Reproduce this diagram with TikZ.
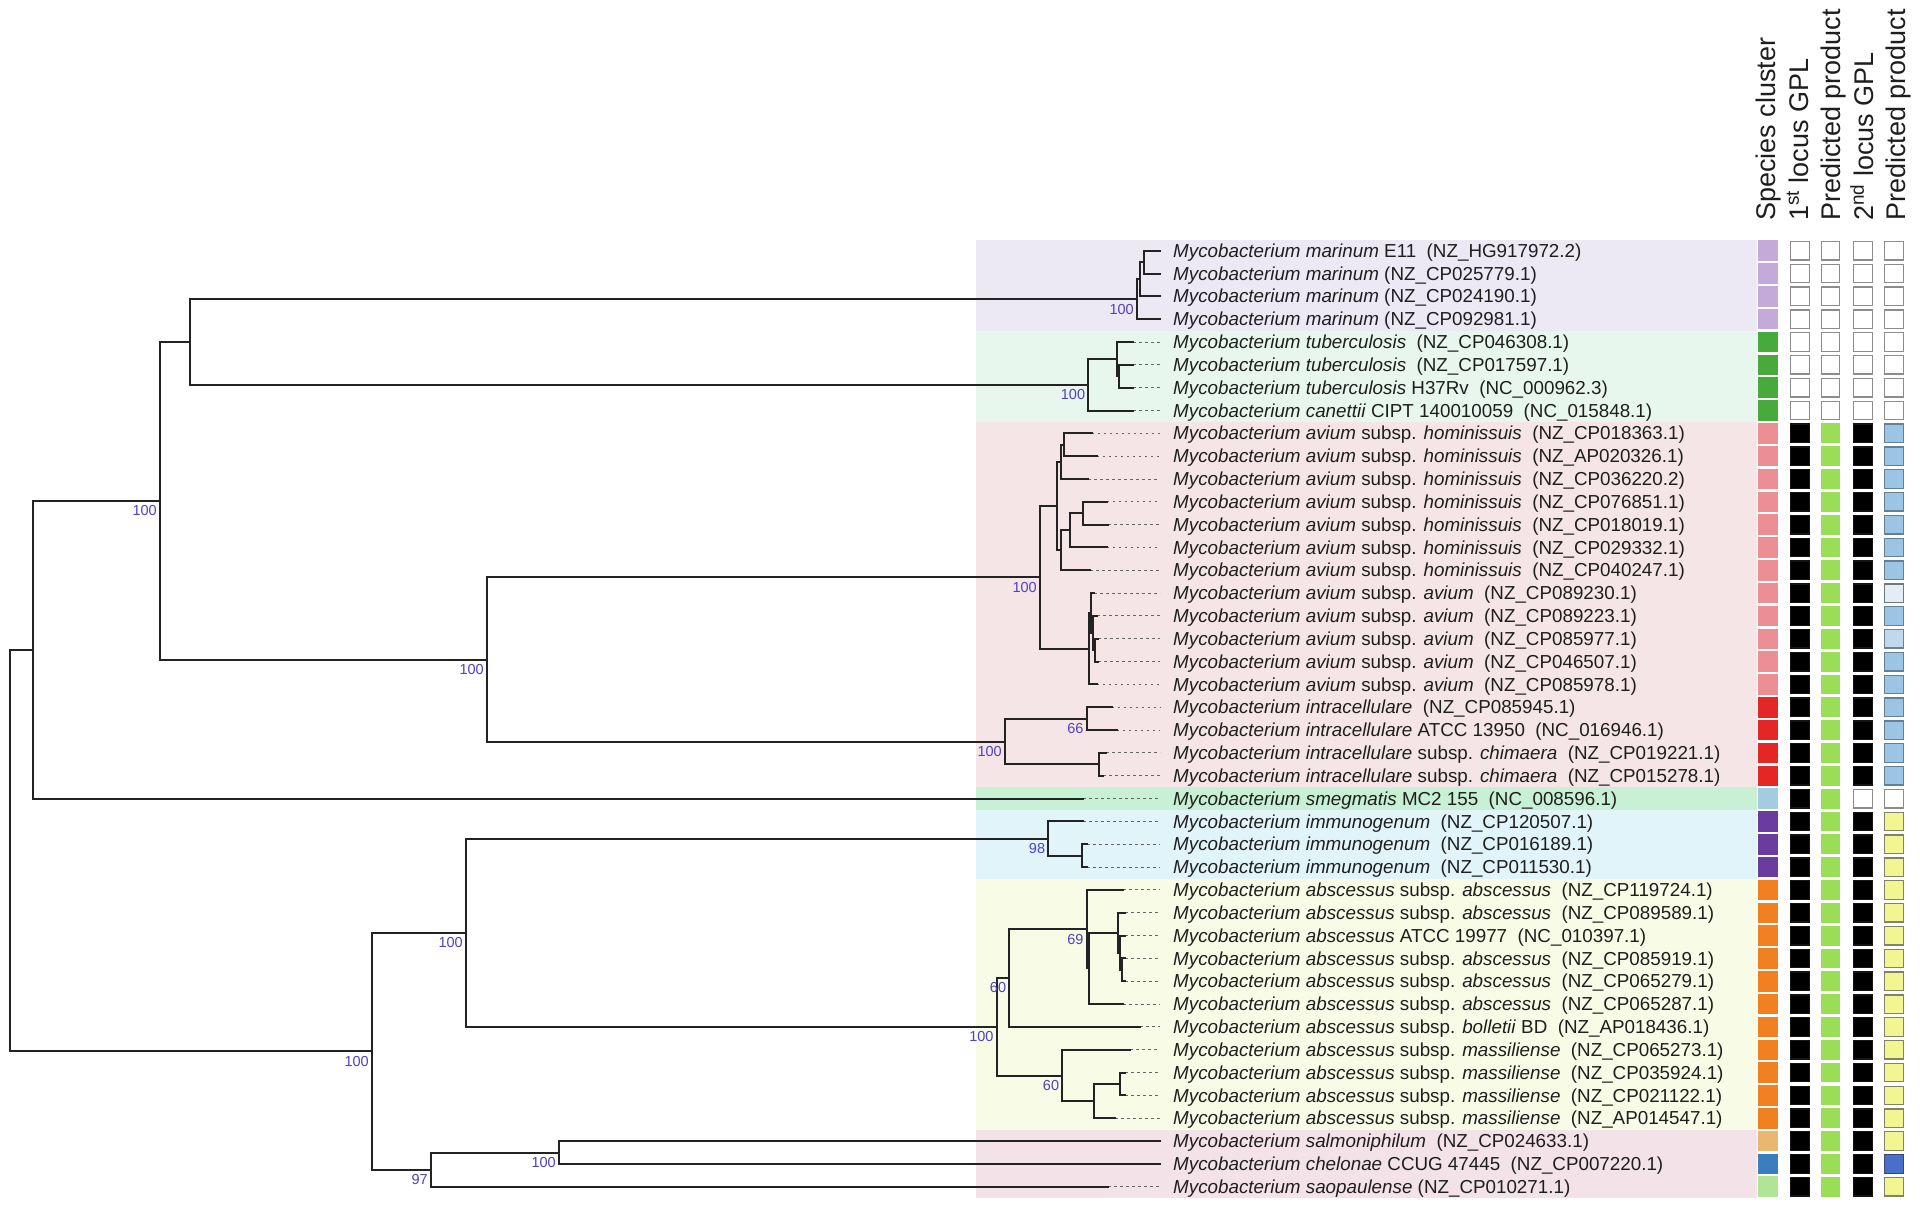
\documentclass[tikz,border=0pt]{standalone}
\usepackage{fontspec}
\setmainfont{Liberation Sans}
\definecolor{bgMar}{RGB}{236,233,245}
\definecolor{bgTub}{RGB}{232,247,238}
\definecolor{bgAv}{RGB}{246,229,231}
\definecolor{bgSm}{RGB}{199,240,213}
\definecolor{bgImm}{RGB}{225,244,250}
\definecolor{bgAbs}{RGB}{248,251,230}
\definecolor{bgBot}{RGB}{243,226,231}
\definecolor{spMar}{RGB}{196,170,216}
\definecolor{spTub}{RGB}{72,170,60}
\definecolor{spAv}{RGB}{236,143,148}
\definecolor{spInt}{RGB}{228,38,38}
\definecolor{spSm}{RGB}{163,204,224}
\definecolor{spImm}{RGB}{106,60,160}
\definecolor{spAbs}{RGB}{240,128,34}
\definecolor{spSal}{RGB}{233,184,112}
\definecolor{spChe}{RGB}{58,126,190}
\definecolor{spSao}{RGB}{176,228,150}
\definecolor{qW}{RGB}{255,255,255}\definecolor{qWE}{RGB}{140,140,140}
\definecolor{qK}{RGB}{0,0,0}\definecolor{qKE}{RGB}{20,20,20}
\definecolor{qG}{RGB}{153,222,86}\definecolor{qGE}{RGB}{153,222,86}
\definecolor{qB}{RGB}{156,196,228}\definecolor{qBE}{RGB}{100,128,150}
\definecolor{qL}{RGB}{192,216,236}\definecolor{qLE}{RGB}{110,130,150}
\definecolor{qV}{RGB}{228,237,245}\definecolor{qVE}{RGB}{110,120,130}
\definecolor{qY}{RGB}{242,246,146}\definecolor{qYE}{RGB}{130,130,105}
\definecolor{qD}{RGB}{72,112,200}\definecolor{qDE}{RGB}{60,70,110}
\definecolor{bsc}{RGB}{80,65,195}
\definecolor{treec}{RGB}{35,35,35}
\definecolor{txtc}{RGB}{30,30,30}
\newcommand{\RY}[1]{{250.7+22.83*(#1-1)}}
\newcommand{\RB}[1]{{257.3+22.83*(#1-1)}}
\tikzset{
  br/.style={draw=treec, line width=2pt, line join=miter, line cap=rect},
  dt/.style={draw=gray!80!black, line width=1pt, dash pattern=on 2.5pt off 3.5pt},
  bs/.style={anchor=north east, inner sep=0pt, text=bsc, font=\fontsize{14.5}{14.5}\selectfont},
  tiplab/.style={anchor=base west, inner sep=0pt, text=txtc, font=\fontsize{18.8}{22}\selectfont},
  hdr/.style={anchor=base west, rotate=90, inner sep=0pt, text=txtc, font=\fontsize{27}{30}\selectfont},
  spq/.style={minimum width=20pt, minimum height=20.5pt, inner sep=0pt, draw=none},
  sqd/.style={minimum width=18.5pt, minimum height=18.5pt, inner sep=0pt, line width=1.3pt}
}
\begin{document}
\begin{tikzpicture}[x=1pt,y=-1pt]
\useasboundingbox (0,0) rectangle (1920,1210);
\fill[white] (0,0) rectangle (1920,1210);
% background bands
\fill[bgMar] (976,240) rectangle (1757,330.6);
\fill[bgTub] (976,330.6) rectangle (1757,421.9);
\fill[bgAv] (976,421.9) rectangle (1757,787.2);
\fill[bgSm] (976,787.2) rectangle (1757,810);
\fill[bgImm] (976,810) rectangle (1757,878.5);
\fill[bgAbs] (976,878.5) rectangle (1757,1129.7);
\fill[bgBot] (976,1129.7) rectangle (1757,1198);
% headers
\node[hdr] (h1) at (1775,221) {Species cluster};
\node[hdr] (h2) at (1808,221) {1\textsuperscript{st} locus GPL};
\node[hdr] (h3) at (1840,221) {Predicted product};
\node[hdr] (h4) at (1873,221) {2\textsuperscript{nd} locus GPL};
\node[hdr] (h5) at (1905,221) {Predicted product};
% tip coordinates
\foreach \i/\sx in {1/1160,2/1160,3/1160,4/1160,5/1133,6/1133,7/1133,8/1133,
  9/1091.7,10/1096.7,11/1088.3,12/1106.7,13/1108.3,14/1106.7,15/1090,
  16/1094,17/1097,18/1098,19/1098,20/1096.7,21/1111.7,22/1116.7,23/1106,24/1103,
  25/1083,26/1083.3,27/1087,28/1087,29/1123.3,30/1125,31/1125,32/1125,33/1125,
  34/1123,35/1140,36/1130,37/1125,38/1125,39/1115,40/1160,41/1160,42/1108}{
  \coordinate (s\i) at (\sx,\RY{\i});
  \coordinate (d\i) at (1160,\RY{\i});
}
% internal nodes
\coordinate (m12) at (1144,262.1);
\coordinate (m123) at (1140,279.25);
\coordinate (mar) at (1137,299.2);
\coordinate (tb67) at (1118.5,376.3);
\coordinate (tb567) at (1116.7,359.15);
\coordinate (tub) at (1088.3,384.8);
\coordinate (nA) at (190,342);
\coordinate (q1) at (1064.3,444.75);
\coordinate (q2) at (1061,461.9);
\coordinate (nT) at (1082.7,513.25);
\coordinate (nS) at (1070,530.4);
\coordinate (nR) at (1061,550.35);
\coordinate (nP) at (1056.7,506.1);
\coordinate (v3) at (1095,650.2);
\coordinate (v2) at (1093,633.1);
\coordinate (v1) at (1091,613.15);
\coordinate (nU) at (1089.3,648.8);
\coordinate (av) at (1040,577.45);
\coordinate (nX) at (1086.7,718.7);
\coordinate (nY) at (1099.3,764.4);
\coordinate (nW) at (1005,741.55);
\coordinate (nC) at (487,659.5);
\coordinate (nB) at (160,500.75);
\coordinate (nD) at (33,649.7);
\coordinate (i23) at (1082.3,855.7);
\coordinate (imm) at (1048.3,838.6);
\coordinate (c33) at (1122,969.9);
\coordinate (c31) at (1120,952.75);
\coordinate (i3) at (1118.3,932.8);
\coordinate (i2) at (1089.3,968.45);
\coordinate (nI) at (1086.7,929.2);
\coordinate (nH) at (1009.3,978.05);
\coordinate (nL) at (1120.3,1084);
\coordinate (nK) at (1094.3,1101.15);
\coordinate (nJ) at (1062.3,1075.5);
\coordinate (abs) at (996.7,1026.8);
\coordinate (nF) at (466,932.7);
\coordinate (nN) at (559,1152.5);
\coordinate (nG) at (431,1169.6);
\coordinate (nE) at (372,1051.15);
\coordinate (root) at (10,850.4);
% dotted tip extensions
\foreach \i in {5,...,39,42}{\draw[dt] (s\i) -- (d\i);}
% branches
\draw[br] (s1) -| (m12) |- (s2);
\draw[br] (m12) -| (m123) |- (s3);
\draw[br] (m123) -| (mar) |- (s4);
\draw[br] (s6) -| (tb67) |- (s7);
\draw[br] (s5) -| (tb567) |- (tb67);
\draw[br] (tb567) -| (tub) |- (s8);
\draw[br] (mar) -| (nA) |- (tub);
\draw[br] (s9) -| (q1) |- (s10);
\draw[br] (q1) -| (q2) |- (s11);
\draw[br] (s12) -| (nT) |- (s13);
\draw[br] (nT) -| (nS) |- (s14);
\draw[br] (nS) -| (nR) |- (s15);
\draw[br] (q2) -| (nP) |- (nR);
\draw[br] (s18) -| (v3) |- (s19);
\draw[br] (s17) -| (v2) |- (v3);
\draw[br] (s16) -| (v1) |- (v2);
\draw[br] (v1) -| (nU) |- (s20);
\draw[br] (nP) -| (av) |- (nU);
\draw[br] (s21) -| (nX) |- (s22);
\draw[br] (s23) -| (nY) |- (s24);
\draw[br] (nX) -| (nW) |- (nY);
\draw[br] (av) -| (nC) |- (nW);
\draw[br] (nA) -| (nB) |- (nC);
\draw[br] (nB) -| (nD) |- (s25);
\draw[br] (s27) -| (i23) |- (s28);
\draw[br] (s26) -| (imm) |- (i23);
\draw[br] (s32) -| (c33) |- (s33);
\draw[br] (s31) -| (c31) |- (c33);
\draw[br] (s30) -| (i3) |- (c31);
\draw[br] (i3) -| (i2) |- (s34);
\draw[br] (s29) -| (nI) |- (i2);
\draw[br] (nI) -| (nH) |- (s35);
\draw[br] (s37) -| (nL) |- (s38);
\draw[br] (nL) -| (nK) |- (s39);
\draw[br] (s36) -| (nJ) |- (nK);
\draw[br] (nH) -| (abs) |- (nJ);
\draw[br] (imm) -| (nF) |- (abs);
\draw[br] (s40) -| (nN) |- (s41);
\draw[br] (nN) -| (nG) |- (s42);
\draw[br] (nF) -| (nE) |- (nG);
\draw[br] (nD) -| (root) |- (nE);
% bootstrap values
\node[bs] (b1) at (1134,303.7) {100};
\node[bs] (b2) at (1085.3,389.3) {100};
\node[bs] (b3) at (1037,582) {100};
\node[bs] (b4) at (1002,746) {100};
\node[bs] (b5) at (1083.7,723.2) {66};
\node[bs] (b6) at (484,664) {100};
\node[bs] (b7) at (157,505.3) {100};
\node[bs] (b8) at (1045.3,843.1) {98};
\node[bs] (b9) at (993.7,1031.3) {100};
\node[bs] (b10) at (1006.3,982.6) {60};
\node[bs] (b11) at (1083.7,933.7) {69};
\node[bs] (b12) at (1059.3,1080) {60};
\node[bs] (b13) at (463,937.2) {100};
\node[bs] (b14) at (369,1055.7) {100};
\node[bs] (b15) at (556,1157) {100};
\node[bs] (b16) at (428,1174.1) {97};
% tip labels
\node[tiplab] (L1) at (1173,\RB{1}) {\textit{Mycobacterium marinum} E11~~(NZ\_HG917972.2)};
\node[tiplab] (L2) at (1173,\RB{2}) {\textit{Mycobacterium marinum} (NZ\_CP025779.1)};
\node[tiplab] (L3) at (1173,\RB{3}) {\textit{Mycobacterium marinum} (NZ\_CP024190.1)};
\node[tiplab] (L4) at (1173,\RB{4}) {\textit{Mycobacterium marinum} (NZ\_CP092981.1)};
\node[tiplab] (L5) at (1173,\RB{5}) {\textit{Mycobacterium tuberculosis}~~(NZ\_CP046308.1)};
\node[tiplab] (L6) at (1173,\RB{6}) {\textit{Mycobacterium tuberculosis}~~(NZ\_CP017597.1)};
\node[tiplab] (L7) at (1173,\RB{7}) {\textit{Mycobacterium tuberculosis} H37Rv~~(NC\_000962.3)};
\node[tiplab] (L8) at (1173,\RB{8}) {\textit{Mycobacterium canettii} CIPT 140010059~~(NC\_015848.1)};
\node[tiplab] (L9) at (1173,\RB{9}) {\textit{Mycobacterium avium} subsp. \textit{hominissuis}~~(NZ\_CP018363.1)};
\node[tiplab] (L10) at (1173,\RB{10}) {\textit{Mycobacterium avium} subsp. \textit{hominissuis}~~(NZ\_AP020326.1)};
\node[tiplab] (L11) at (1173,\RB{11}) {\textit{Mycobacterium avium} subsp. \textit{hominissuis}~~(NZ\_CP036220.2)};
\node[tiplab] (L12) at (1173,\RB{12}) {\textit{Mycobacterium avium} subsp. \textit{hominissuis}~~(NZ\_CP076851.1)};
\node[tiplab] (L13) at (1173,\RB{13}) {\textit{Mycobacterium avium} subsp. \textit{hominissuis}~~(NZ\_CP018019.1)};
\node[tiplab] (L14) at (1173,\RB{14}) {\textit{Mycobacterium avium} subsp. \textit{hominissuis}~~(NZ\_CP029332.1)};
\node[tiplab] (L15) at (1173,\RB{15}) {\textit{Mycobacterium avium} subsp. \textit{hominissuis}~~(NZ\_CP040247.1)};
\node[tiplab] (L16) at (1173,\RB{16}) {\textit{Mycobacterium avium} subsp. \textit{avium}~~(NZ\_CP089230.1)};
\node[tiplab] (L17) at (1173,\RB{17}) {\textit{Mycobacterium avium} subsp. \textit{avium}~~(NZ\_CP089223.1)};
\node[tiplab] (L18) at (1173,\RB{18}) {\textit{Mycobacterium avium} subsp. \textit{avium}~~(NZ\_CP085977.1)};
\node[tiplab] (L19) at (1173,\RB{19}) {\textit{Mycobacterium avium} subsp. \textit{avium}~~(NZ\_CP046507.1)};
\node[tiplab] (L20) at (1173,\RB{20}) {\textit{Mycobacterium avium} subsp. \textit{avium}~~(NZ\_CP085978.1)};
\node[tiplab] (L21) at (1173,\RB{21}) {\textit{Mycobacterium intracellulare}~~(NZ\_CP085945.1)};
\node[tiplab] (L22) at (1173,\RB{22}) {\textit{Mycobacterium intracellulare} ATCC 13950~~(NC\_016946.1)};
\node[tiplab] (L23) at (1173,\RB{23}) {\textit{Mycobacterium intracellulare} subsp. \textit{chimaera}~~(NZ\_CP019221.1)};
\node[tiplab] (L24) at (1173,\RB{24}) {\textit{Mycobacterium intracellulare} subsp. \textit{chimaera}~~(NZ\_CP015278.1)};
\node[tiplab] (L25) at (1173,\RB{25}) {\textit{Mycobacterium smegmatis} MC2 155~~(NC\_008596.1)};
\node[tiplab] (L26) at (1173,\RB{26}) {\textit{Mycobacterium immunogenum}~~(NZ\_CP120507.1)};
\node[tiplab] (L27) at (1173,\RB{27}) {\textit{Mycobacterium immunogenum}~~(NZ\_CP016189.1)};
\node[tiplab] (L28) at (1173,\RB{28}) {\textit{Mycobacterium immunogenum}~~(NZ\_CP011530.1)};
\node[tiplab] (L29) at (1173,\RB{29}) {\textit{Mycobacterium abscessus} subsp. \textit{abscessus}~~(NZ\_CP119724.1)};
\node[tiplab] (L30) at (1173,\RB{30}) {\textit{Mycobacterium abscessus} subsp. \textit{abscessus}~~(NZ\_CP089589.1)};
\node[tiplab] (L31) at (1173,\RB{31}) {\textit{Mycobacterium abscessus} ATCC 19977~~(NC\_010397.1)};
\node[tiplab] (L32) at (1173,\RB{32}) {\textit{Mycobacterium abscessus} subsp. \textit{abscessus}~~(NZ\_CP085919.1)};
\node[tiplab] (L33) at (1173,\RB{33}) {\textit{Mycobacterium abscessus} subsp. \textit{abscessus}~~(NZ\_CP065279.1)};
\node[tiplab] (L34) at (1173,\RB{34}) {\textit{Mycobacterium abscessus} subsp. \textit{abscessus}~~(NZ\_CP065287.1)};
\node[tiplab] (L35) at (1173,\RB{35}) {\textit{Mycobacterium abscessus} subsp. \textit{bolletii} BD~~(NZ\_AP018436.1)};
\node[tiplab] (L36) at (1173,\RB{36}) {\textit{Mycobacterium abscessus} subsp. \textit{massiliense}~~(NZ\_CP065273.1)};
\node[tiplab] (L37) at (1173,\RB{37}) {\textit{Mycobacterium abscessus} subsp. \textit{massiliense}~~(NZ\_CP035924.1)};
\node[tiplab] (L38) at (1173,\RB{38}) {\textit{Mycobacterium abscessus} subsp. \textit{massiliense}~~(NZ\_CP021122.1)};
\node[tiplab] (L39) at (1173,\RB{39}) {\textit{Mycobacterium abscessus} subsp. \textit{massiliense}~~(NZ\_AP014547.1)};
\node[tiplab] (L40) at (1173,\RB{40}) {\textit{Mycobacterium salmoniphilum}~~(NZ\_CP024633.1)};
\node[tiplab] (L41) at (1173,\RB{41}) {\textit{Mycobacterium chelonae} CCUG 47445~~(NZ\_CP007220.1)};
\node[tiplab] (L42) at (1173,\RB{42}) {\textit{Mycobacterium saopaulense} (NZ\_CP010271.1)};
% squares
\foreach \r/\sc/\fa/\fb/\fc/\fd in {
 1/spMar/qW/qW/qW/qW, 2/spMar/qW/qW/qW/qW, 3/spMar/qW/qW/qW/qW, 4/spMar/qW/qW/qW/qW,
 5/spTub/qW/qW/qW/qW, 6/spTub/qW/qW/qW/qW, 7/spTub/qW/qW/qW/qW, 8/spTub/qW/qW/qW/qW,
 9/spAv/qK/qG/qK/qB, 10/spAv/qK/qG/qK/qB, 11/spAv/qK/qG/qK/qB, 12/spAv/qK/qG/qK/qB,
 13/spAv/qK/qG/qK/qB, 14/spAv/qK/qG/qK/qB, 15/spAv/qK/qG/qK/qB, 16/spAv/qK/qG/qK/qV,
 17/spAv/qK/qG/qK/qB, 18/spAv/qK/qG/qK/qL, 19/spAv/qK/qG/qK/qB, 20/spAv/qK/qG/qK/qB,
 21/spInt/qK/qG/qK/qB, 22/spInt/qK/qG/qK/qB, 23/spInt/qK/qG/qK/qB, 24/spInt/qK/qG/qK/qB,
 25/spSm/qK/qG/qW/qW,
 26/spImm/qK/qG/qK/qY, 27/spImm/qK/qG/qK/qY, 28/spImm/qK/qG/qK/qY,
 29/spAbs/qK/qG/qK/qY, 30/spAbs/qK/qG/qK/qY, 31/spAbs/qK/qG/qK/qY, 32/spAbs/qK/qG/qK/qY,
 33/spAbs/qK/qG/qK/qY, 34/spAbs/qK/qG/qK/qY, 35/spAbs/qK/qG/qK/qY, 36/spAbs/qK/qG/qK/qY,
 37/spAbs/qK/qG/qK/qY, 38/spAbs/qK/qG/qK/qY, 39/spAbs/qK/qG/qK/qY,
 40/spSal/qK/qG/qK/qY, 41/spChe/qK/qG/qK/qD, 42/spSao/qK/qG/qK/qY}{
  \node[spq, fill=\sc] (sc\r) at (1768,\RY{\r}) {};
  \node[sqd, fill=\fa, draw=\fa E] (ga\r) at (1800,\RY{\r}) {};
  \node[sqd, fill=\fb, draw=\fb E] (pa\r) at (1830.5,\RY{\r}) {};
  \node[sqd, fill=\fc, draw=\fc E] (gb\r) at (1863,\RY{\r}) {};
  \node[sqd, fill=\fd, draw=\fd E] (pb\r) at (1894,\RY{\r}) {};
}
\end{tikzpicture}
\end{document}
